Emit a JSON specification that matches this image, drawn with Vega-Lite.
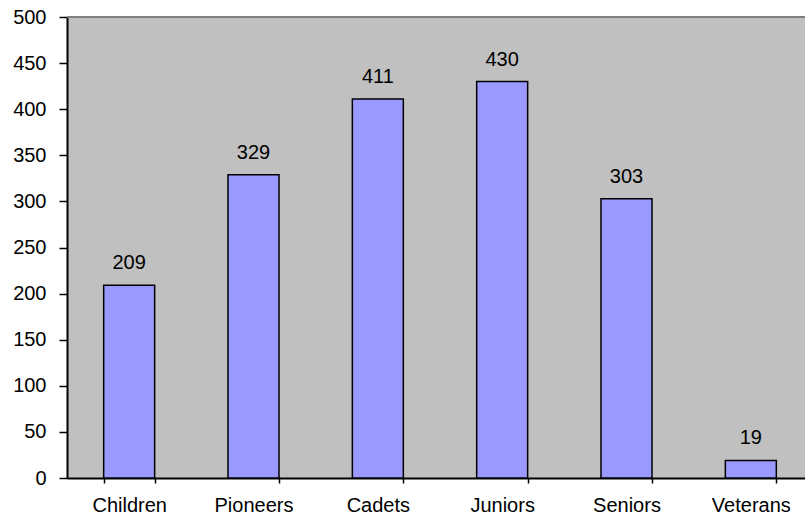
{
  "$schema": "https://vega.github.io/schema/vega-lite/v6.json",
  "autosize": {"type": "none"},
  "padding": {"left": 67, "top": 17, "right": 0, "bottom": 42},
  "width": 738,
  "height": 461,
  "background": "white",
  "config": {
    "view": {"stroke": null, "fill": "#C0C0C0"},
    "font": "Liberation Sans"
  },
  "data": {
    "values": [
      {"group": "Children", "count": 209},
      {"group": "Pioneers", "count": 329},
      {"group": "Cadets", "count": 411},
      {"group": "Juniors", "count": 430},
      {"group": "Seniors", "count": 303},
      {"group": "Veterans", "count": 19}
    ]
  },
  "encoding": {
    "x": {
      "field": "group",
      "type": "nominal",
      "sort": null,
      "scale": {"range": [0, 746], "paddingInner": 0.59, "paddingOuter": 0.295},
      "axis": {
        "title": null,
        "labelAngle": 0,
        "labelFont": "Liberation Sans",
        "labelFontSize": 20,
        "labelColor": "black",
        "labelPadding": 12,
        "tickBand": "extent",
        "tickSize": 5,
        "tickColor": "black",
        "tickWidth": 1.5,
        "domainColor": "black",
        "domainWidth": 2,
        "grid": false
      }
    },
    "y": {
      "field": "count",
      "type": "quantitative",
      "scale": {"domain": [0, 500], "nice": false},
      "axis": {
        "title": null,
        "values": [0, 50, 100, 150, 200, 250, 300, 350, 400, 450, 500],
        "labelFont": "Liberation Sans",
        "labelFontSize": 20,
        "labelColor": "black",
        "labelPadding": 13,
        "tickSize": 8,
        "tickColor": "black",
        "tickWidth": 1.5,
        "domainColor": "black",
        "domainWidth": 2,
        "grid": false
      }
    }
  },
  "layer": [
    {
      "mark": {"type": "rule", "color": "#808080", "strokeWidth": 2},
      "encoding": {"y": {"datum": 500}, "x": null}
    },
    {
      "mark": {"type": "bar", "fill": "#9999FF", "stroke": "black", "strokeWidth": 1.5}
    },
    {
      "mark": {"type": "text", "baseline": "alphabetic", "dy": -16, "fontSize": 20, "font": "Liberation Sans", "color": "black"},
      "encoding": {"text": {"field": "count", "type": "quantitative"}}
    }
  ]
}
